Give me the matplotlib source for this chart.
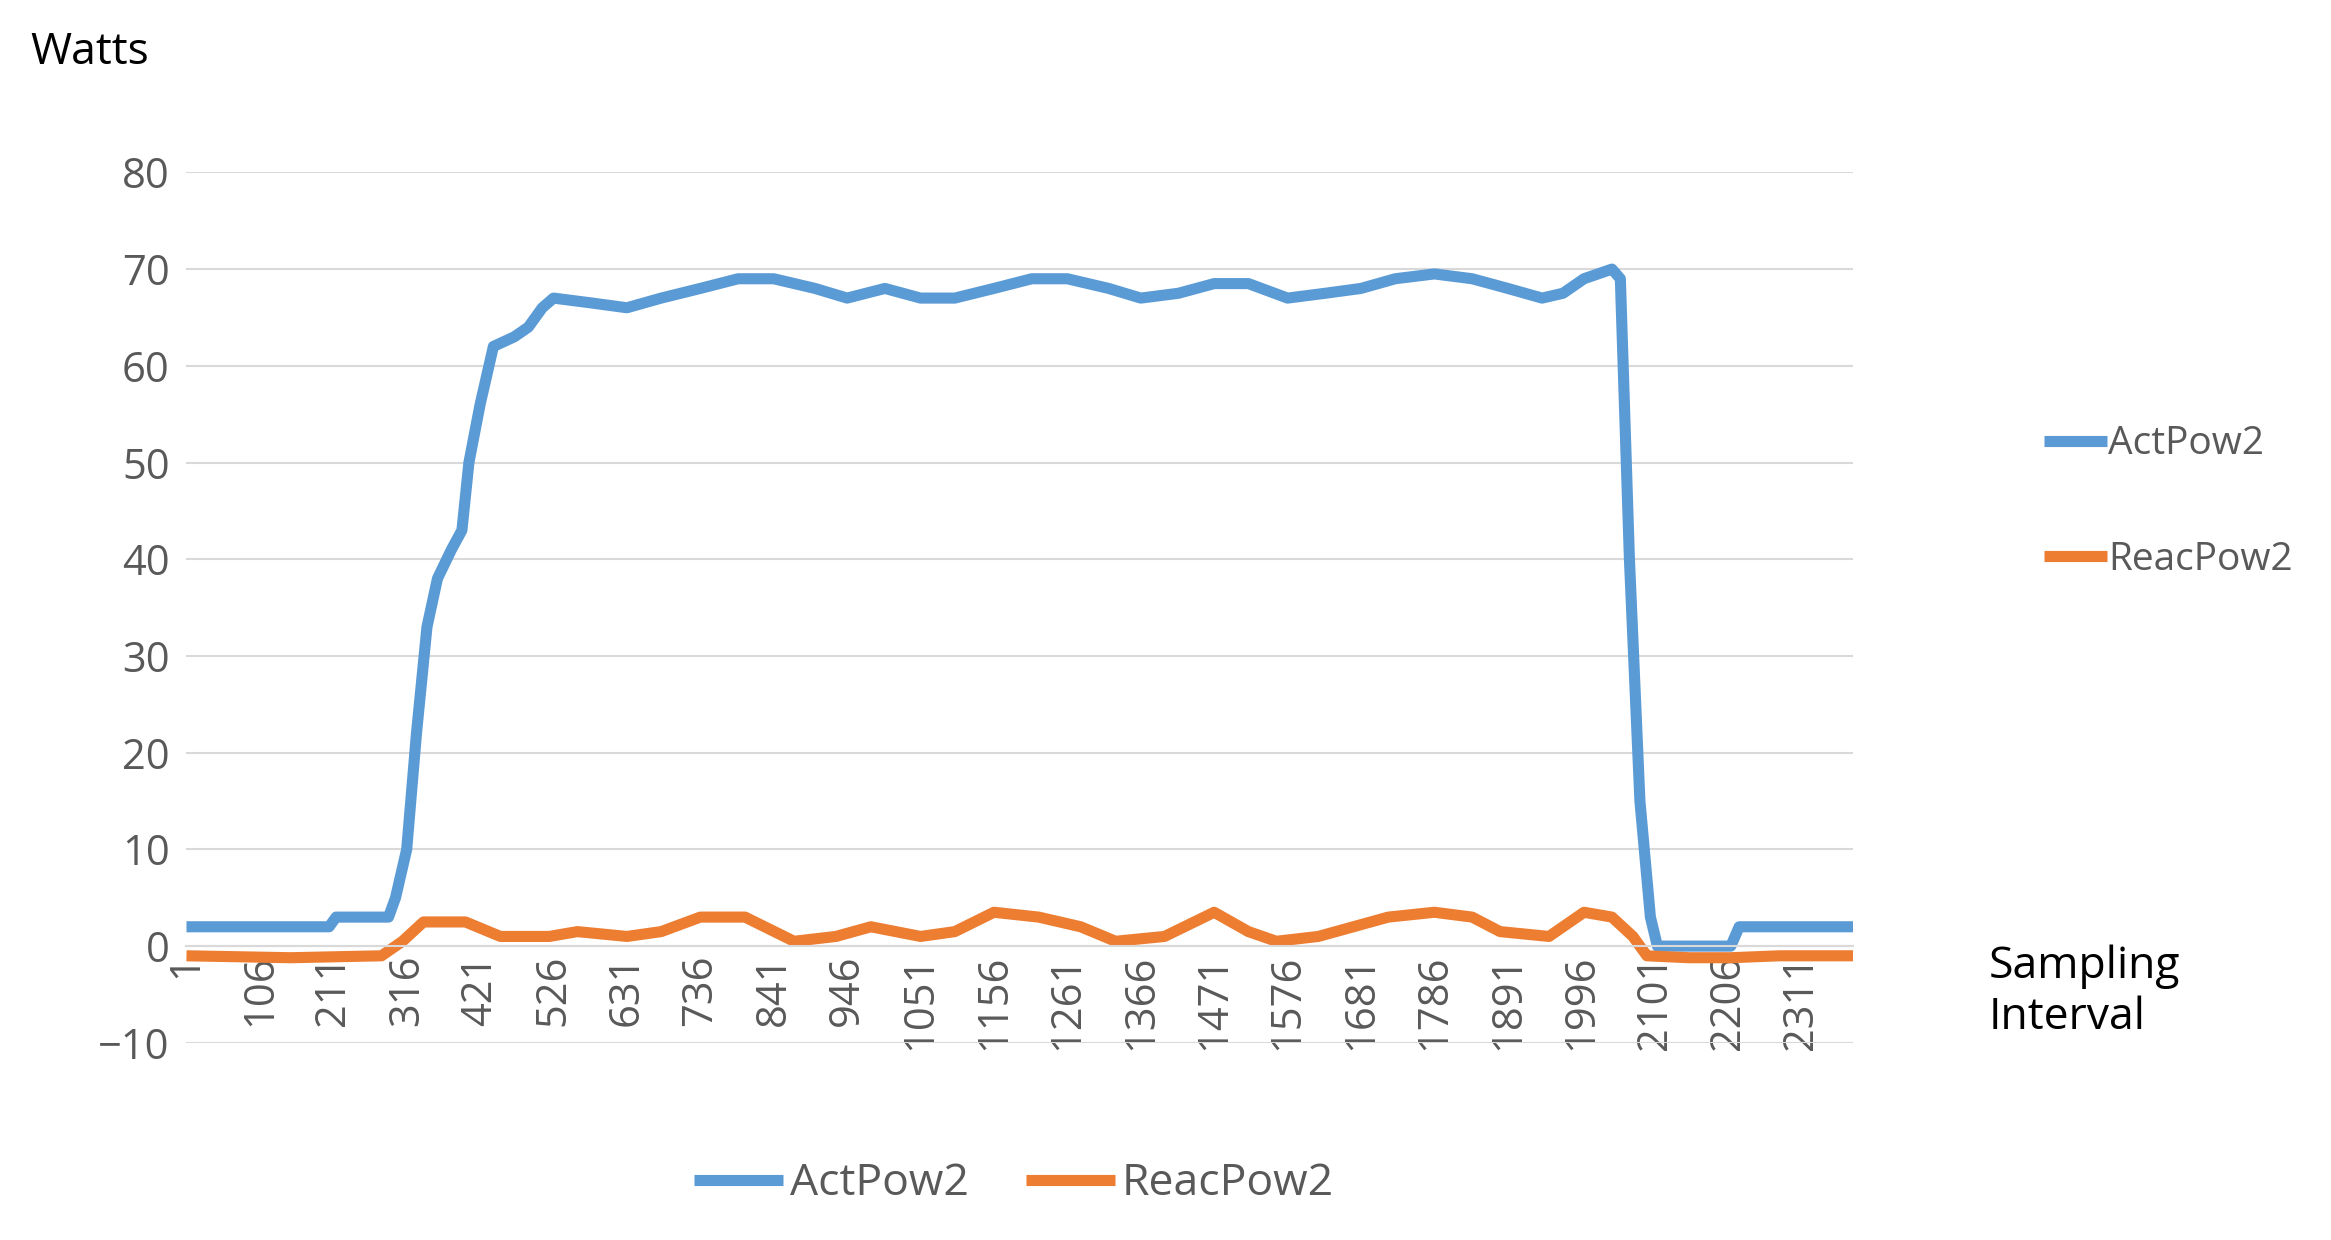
import matplotlib
matplotlib.use('Agg')
import matplotlib.pyplot as plt

# values (sample index, watts)
act_x = [1, 100, 205, 215, 290, 300, 316, 330, 345, 360, 380, 395, 405, 421, 440, 470, 490, 510, 526,
         580, 631, 680, 736, 790, 841, 900, 946, 1000, 1051, 1100, 1156, 1210, 1261, 1320, 1366, 1420,
         1471, 1520, 1576, 1630, 1681, 1730, 1786, 1840, 1891, 1940, 1970, 2000, 2040, 2052, 2065, 2080,
         2095, 2105, 2150, 2210, 2222, 2300, 2385]
act_y = [2, 2, 2, 3, 3, 5, 10, 22, 33, 38, 41, 43, 50, 56, 62, 63, 64, 66, 67,
         66.5, 66, 67, 68, 69, 69, 68, 67, 68, 67, 67, 68, 69, 69, 68, 67, 67.5,
         68.5, 68.5, 67, 67.5, 68, 69, 69.5, 69, 68, 67, 67.5, 69, 70, 69, 40, 15,
         3, 0, 0, 0, 2, 2, 2]

reac_x = [1, 150, 280, 310, 340, 400, 450, 520, 560, 631, 680, 736, 800, 870, 930, 980, 1051, 1100,
          1156, 1220, 1280, 1330, 1400, 1471, 1520, 1560, 1620, 1720, 1786, 1840, 1880, 1950, 2000,
          2040, 2070, 2090, 2150, 2210, 2280, 2385]
reac_y = [-1, -1.2, -1, 0.5, 2.5, 2.5, 1, 1, 1.5, 1, 1.5, 3, 3, 0.5, 1, 2, 1, 1.5,
          3.5, 3, 2, 0.5, 1, 3.5, 1.5, 0.5, 1, 3, 3.5, 3, 1.5, 1, 3.5,
          3, 1, -1, -1.2, -1.2, -1, -1]

y_ticks = [-10, 0, 10, 20, 30, 40, 50, 60, 70, 80]
x_ticks = list(range(1, 2312, 105))

blue = '#5b9bd5'
orange = '#ed7d31'
grey = '#595959'

plt.rcParams['font.family'] = ['Open Sans', 'DejaVu Sans']

fig = plt.figure(figsize=(23.31, 12.40), dpi=100)
ax = fig.add_axes([0.08, 0.159, 0.715, 0.702])

l1, = ax.plot(act_x, act_y, color=blue, lw=8, label='ActPow2', solid_capstyle='butt')
l2, = ax.plot(reac_x, reac_y, color=orange, lw=8, label='ReacPow2', solid_capstyle='butt')

ax.set_xlim(1, 2385)
ax.set_ylim(-10, 80)
ax.spines['bottom'].set_position(('data', 0))
ax.set_yticks(y_ticks)
ax.set_xticks(x_ticks)
ax.set_xticklabels([str(v) for v in x_ticks])
ax.grid(axis='y', color='#d9d9d9', lw=1.5)
ax.set_axisbelow(True)
for s in ['top', 'right', 'left']:
    ax.spines[s].set_visible(False)
ax.spines['bottom'].set_color('#d9d9d9')
ax.spines['bottom'].set_linewidth(1.5)
ax.tick_params(axis='both', length=0, colors=grey, labelsize=30, pad=12)
ax.tick_params(axis='x', labelrotation=90, pad=6)

fig.text(0.013, 0.975, 'Watts', fontsize=32, va='top')
fig.text(0.853, 0.2, 'Sampling\nInterval', fontsize=32, va='center', linespacing=1.2)

fig.legend(handles=[l1, l2], loc='center left', bbox_to_anchor=(0.862, 0.595),
           frameon=False, fontsize=28, handlelength=1.6, labelspacing=2.0,
           handletextpad=0.05, labelcolor=grey)
fig.legend(handles=[l1, l2], loc='center', bbox_to_anchor=(0.435, 0.045), ncol=2,
           frameon=False, fontsize=32, handlelength=2.0, columnspacing=1.3,
           handletextpad=0.15, labelcolor=grey)

fig.savefig('out.png')
